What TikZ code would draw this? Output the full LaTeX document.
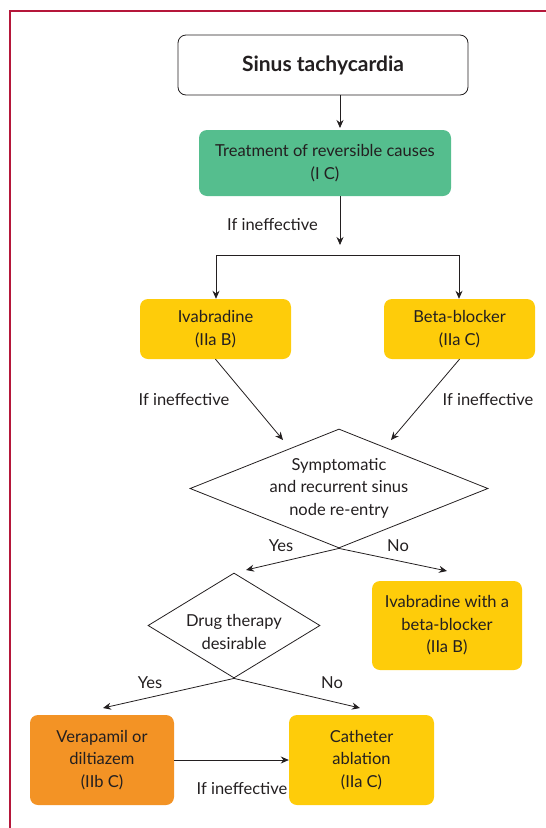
\documentclass[tikz,border=0pt]{standalone}
\usepackage{fontspec}
\setmainfont{Lato}
\usetikzlibrary{shapes.geometric,arrows.meta}
\definecolor{frame}{HTML}{B5173A}
\definecolor{grn}{HTML}{55BE8E}
\definecolor{ylw}{HTML}{FECC0A}
\definecolor{org}{HTML}{F39325}
\definecolor{txt}{HTML}{231F20}
\begin{document}
\begin{tikzpicture}[x=1pt,y=-1pt,
  box/.style={rounded corners=8pt,align=center,inner sep=0pt,font=\fontsize{16.5}{22.5}\selectfont,text=txt},
  arr/.style={-{Stealth[length=8pt,width=7pt]},line width=0.8pt,draw=txt},
  lbl/.style={font=\fontsize{16.5}{22.5}\selectfont,text=txt,inner sep=0pt},
  dia/.style={diamond,draw=txt,line width=0.8pt,inner sep=0pt}]
\useasboundingbox (0,0) rectangle (546,828);
\draw[frame,line width=2pt] (10,840) -- (10,11) -- (560,11);
% nodes
\node[box,draw=txt,line width=0.8pt,fill=white,minimum width=290pt,minimum height=60pt,font=\fontsize{21}{24}\selectfont\bfseries] (st) at (323,65) {Sinus tachycardia};
\node[box,fill=grn,minimum width=252pt,minimum height=66pt] (tr) at (325,163) {Treatment of reversible causes\\(I C)};
\node[box,fill=ylw,minimum width=151pt,minimum height=60pt] (iv) at (215.5,329) {Ivabradine\\(IIa B)};
\node[box,fill=ylw,minimum width=151pt,minimum height=60pt] (bb) at (459.5,329) {Beta-blocker\\(IIa C)};
\node[dia,minimum width=298pt,minimum height=119pt] (d1) at (339,488.5) {};
\node[lbl,align=center] (d1t) at (339,488) {Symptomatic\\and recurrent sinus\\node re-entry};
\node[box,fill=ylw,minimum width=150pt,minimum height=89pt] (ib) at (447,625.5) {Ivabradine with a\\beta-blocker\\(IIa B)};
\node[dia,minimum width=172pt,minimum height=105pt] (d2) at (234,625.5) {};
\node[lbl,align=center] (d2t) at (234,632) {Drug therapy\\desirable};
\node[box,fill=org,minimum width=144pt,minimum height=90pt] (vd) at (102,760) {Verapamil or\\diltiazem\\(IIb C)};
\node[box,fill=ylw,minimum width=145pt,minimum height=90pt] (ca) at (361.5,760) {Catheter\\ablation\\(IIa C)};
% connectors
\coordinate (a2) at (340,128);
\draw[arr] (st.south -| a2) -- (a2);
\coordinate (b1) at (340,196);
\coordinate (b2) at (340,245);
\draw[arr] (b1) -- (b2);
\node[lbl,anchor=east] (l1) at (318,225) {If ineffective};
\coordinate (h1) at (216,255);
\coordinate (h2) at (459,255);
\draw[line width=0.8pt,draw=txt] (h1) -- (h2);
\draw[arr] (h1) -- (iv.north -| h1);
\draw[arr] (h2) -- (bb.north -| h2);
\coordinate (e1) at (283,440);
\coordinate (e2) at (391,440);
\draw[arr] (iv.south) -- (e1);
\draw[arr] (bb.south) -- (e2);
\node[lbl] (l2) at (184,400) {If ineffective};
\node[lbl] (l3) at (488,400) {If ineffective};
\coordinate (y1) at (246,570);
\coordinate (n1) at (447,571);
\draw[arr] (d1.south) -- (y1);
\draw[arr] (d1.south) -- (n1);
\node[lbl] (l4) at (281,546) {Yes};
\node[lbl] (l5) at (398,546) {No};
\coordinate (y2) at (103,708);
\coordinate (n2) at (360,708);
\draw[arr] (d2.south) -- (y2);
\draw[arr] (d2.south) -- (n2);
\node[lbl] (l6) at (150,683) {Yes};
\node[lbl] (l7) at (332,683) {No};
\draw[arr] (vd.east) -- (ca.west);
\node[lbl] (l8) at (242,789) {If ineffective};
\end{tikzpicture}
\end{document}
